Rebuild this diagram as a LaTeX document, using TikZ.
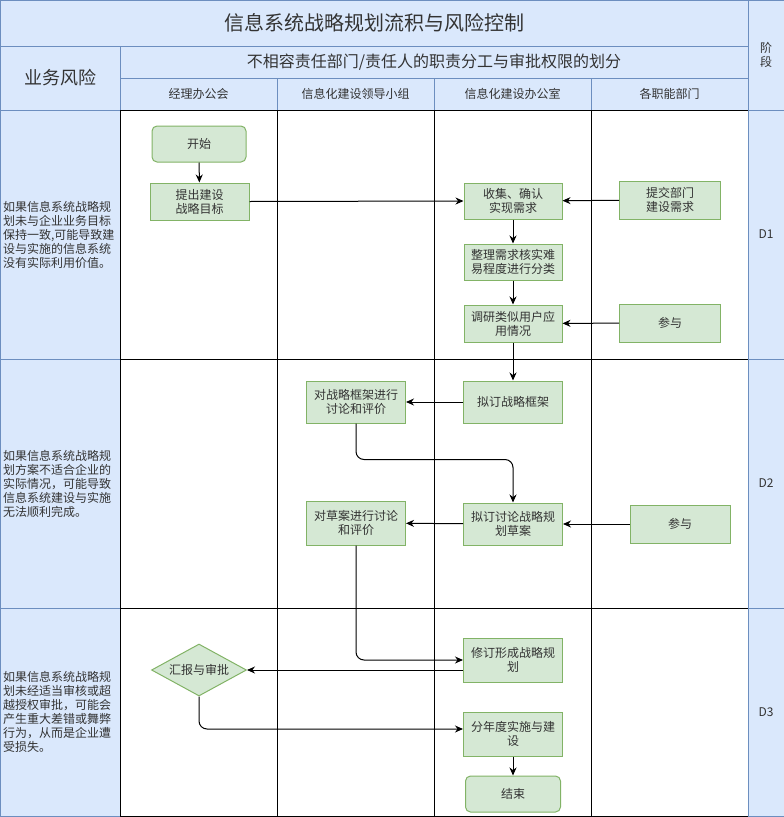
\documentclass[tikz,border=0pt]{standalone}
\usepackage{fontspec}
\setmainfont{Noto Sans CJK SC}
\usepackage{tikz}
\usetikzlibrary{arrows.meta, shapes.geometric}
\tikzset{>={Stealth[length=8pt,width=7pt]}}
\definecolor{laneblue}{HTML}{DAE8FC}
\definecolor{laneedge}{HTML}{6C8EBF}
\definecolor{taskgreen}{HTML}{D5E8D4}
\definecolor{taskedge}{HTML}{82B366}
\tikzset{
  cell/.style={draw=laneedge, fill=laneblue, line width=1pt, inner sep=0pt, text=black!80, align=center},
  risk/.style={cell, minimum width=120pt, text width=114pt, align=left, font=\fontsize{12}{14}\selectfont},
  task/.style={draw=taskedge, fill=taskgreen, line width=1pt, minimum width=99pt, minimum height=37pt, inner sep=1pt, align=center, text=black!80, font=\fontsize{12}{14}\selectfont},
  terminal/.style={task, rounded corners=5pt},
  approval/.style={task, diamond, aspect=1.8, minimum width=95pt, minimum height=52pt, inner sep=0pt},
  flow/.style={->, line width=1pt, rounded corners=8pt},
}

\begin{document}
\begin{tikzpicture}[x=1pt, y=-1pt]
\useasboundingbox (0,0) rectangle (784,817);

% header
\node[cell, minimum width=748pt, minimum height=46pt, font=\fontsize{20}{24}\selectfont] (title) at (374,23) {信息系统战略规划流积与风险控制};
\node[cell, minimum width=36pt, minimum height=110pt, font=\fontsize{12}{14}\selectfont] (phase) at (766,55) {阶\\段};
\node[cell, minimum width=120pt, minimum height=64pt, font=\fontsize{18}{22}\selectfont] (riskhead) at (60,78) {业务风险};
\node[cell, minimum width=628pt, minimum height=32pt, font=\fontsize{16}{19}\selectfont] (duty) at (434,62) {不相容责任部门/责任人的职责分工与审批权限的划分};
\foreach \x/\name/\txt in {198.5/office/经理办公会, 355.5/leader/信息化建设领导小组, 512.5/infodept/信息化建设办公室, 669.5/depts/各职能部门}{
    \node[cell, minimum width=157pt, minimum height=32pt, font=\fontsize{12}{14}\selectfont] (\name) at (\x,94) {\txt};
}

% risk column and phase column
\node[risk, minimum height=249pt] (riskA) at (60,234.5) {如果信息系统战略规\\划未与企业业务目标\\保持一致,可能导致建\\设与实施的信息系统\\没有实际利用价值。};
\node[risk, minimum height=249pt] (riskB) at (60,483.5) {如果信息系统战略规\\划方案不适合企业的\\实际情况，可能导致\\信息系统建设与实施\\无法顺利完成。};
\node[risk, minimum height=208pt] (riskC) at (60,712) {如果信息系统战略规\\划未经适当审核或超\\越授权审批，可能会\\产生重大差错或舞弊\\行为，从而是企业遭\\受损失。};
\foreach \y/\h/\d in {234.5/249/1, 483.5/249/2, 712/208/3}{
    \node[cell, minimum width=36pt, minimum height=\h pt, font=\fontsize{12}{14}\selectfont] (stage\d) at (766,\y) {D\d};
}

% swimlane grid
\foreach \x in {120, 277, 434, 591}{
    \draw[line width=1pt] (\x,110) -- (\x,816);
}
\foreach \y in {110, 359, 608, 816}{
    \draw[line width=1pt] (120,\y) -- (748,\y);
}

% D1
\node[terminal, minimum width=94pt, minimum height=36pt] (start) at (199,144) {开始};
\node[task] (goal) at (199.5,201.5) {提出建设\\战略目标};
\node[task, minimum width=98pt, minimum height=36pt] (collect) at (513,201) {收集、确认\\实现需求};
\node[task, minimum width=101pt, minimum height=38pt] (submit) at (670,200) {提交部门\\建设需求};
\node[task, minimum width=98pt, minimum height=36pt] (sort) at (513,262) {整理需求核实难\\易程度进行分类};
\node[task, minimum width=98pt] (survey) at (513,323.5) {调研类似用户应\\用情况};
\node[task, minimum width=101pt, minimum height=38pt] (joinA) at (670,323) {参与};

% D2
\node[task, minimum height=42pt] (frame) at (513,402) {拟订战略框架};
\node[task, minimum height=42pt] (discussA) at (356,402) {对战略框架进行\\讨论和评价};
\node[task, minimum height=42pt] (draft) at (513,524) {拟订讨论战略规\\划草案};
\node[task, minimum height=44pt] (discussB) at (356,523) {对草案进行讨论\\和评价};
\node[task, minimum width=100pt, minimum height=38pt] (joinB) at (680,524) {参与};

% D3
\node[task, minimum height=44pt] (revise) at (513,660) {修订形成战略规\\划};
\node[approval] (approve) at (199,670) {汇报与审批};
\node[task, minimum height=44pt] (yearly) at (513,734) {分年度实施与建\\设};
\node[terminal, minimum width=95pt, minimum height=36pt] (finish) at (513,794) {结束};

\draw[flow] (start) -- (goal);
\draw[flow] (goal.east) -- (collect.west);
\draw[flow] (submit) -- (collect);
\draw[flow] (collect) -- (sort);
\draw[flow] (sort) -- (survey);
\draw[flow] (joinA) -- (survey);
\draw[flow] (survey) -- (frame);
\draw[flow] (frame) -- (discussA);
\draw[flow] (discussA.south) -- ++(0,36) -| (draft.north);
\draw[flow] (draft) -- (discussB);
\draw[flow] (joinB) -- (draft);
\draw[flow] (discussB.south) |- (revise.west);
\draw[flow] ([yshift=-10pt]revise.west) -- (approve.east);
\draw[flow] (approve.south) |- ([yshift=5pt]yearly.west);
\draw[flow] (yearly) -- (finish);

\end{tikzpicture}
\end{document}
